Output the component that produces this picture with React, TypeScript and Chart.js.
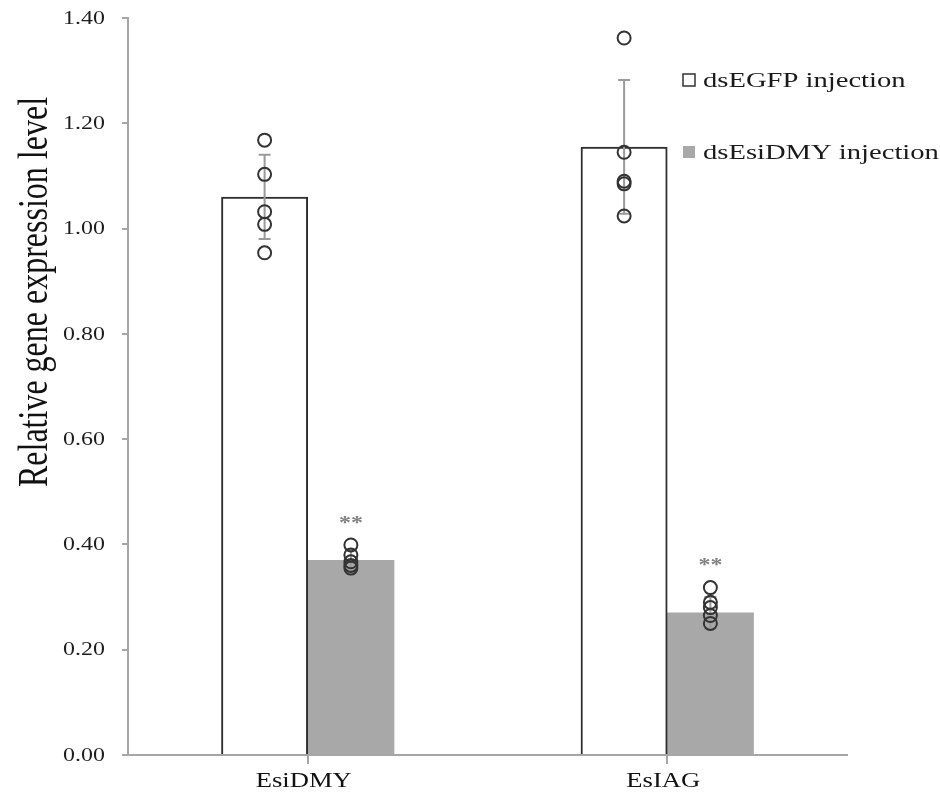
import React, { useEffect, useRef } from "react";
import { Chart, registerables } from "chart.js";

Chart.register(...registerables);

const categories = ["EsiDMY", "EsIAG"];
const seriesNames = ["dsEGFP injection", "dsEsiDMY injection"];
const egfpMeans = [1.06, 1.155];
const egfpErr = [0.08, 0.127];
const dmyMeans = [0.37, 0.27];
const dmyErr = [0.02, 0.03];
const egfpPoints = [
  [1.168, 1.103, 1.032, 1.008, 0.954],
  [1.362, 1.145, 1.09, 1.085, 1.024],
];
const dmyPoints = [
  [0.399, 0.38, 0.367, 0.36, 0.355],
  [0.318, 0.29, 0.28, 0.265, 0.25],
];
const sigLabels = ["**", "**"];
const yTicks = [0, 0.2, 0.4, 0.6, 0.8, 1.0, 1.2, 1.4];
const yTitle = "Relative gene expression level";

const OFFSET = 0.12; // half of a bar's width, in category units
const SERIF = "'Liberation Serif', 'DejaVu Serif', serif";
const GRAY = "#a8a8a8";
const AXIS = "#a6a6a6";
const SX = 1.33; // horizontal glyph stretch of the original figure

function toPts(groups: number[][], shift: number) {
  const out: { x: number; y: number }[] = [];
  groups.forEach((g, i) => g.forEach((v) => out.push({ x: i + shift, y: v })));
  return out;
}
function toBars(means: number[], shift: number) {
  return means.map((v, i) => ({ x: i + shift, y: v }));
}

function stretchedText(
  ctx: CanvasRenderingContext2D,
  text: string,
  x: number,
  y: number,
  align: "left" | "center" | "right",
) {
  ctx.save();
  ctx.translate(x, y);
  ctx.scale(SX, 1);
  ctx.textAlign = align;
  ctx.textBaseline = "middle";
  ctx.fillText(text, 0, 0);
  ctx.restore();
}

const extrasPlugin = {
  id: "extras",
  afterDatasetDraw(chart: any, args: any) {
    if (args.index !== 0) return;
    const ctx = chart.ctx;
    const x = chart.scales.x;
    const y = chart.scales.y;
    ctx.save();
    ctx.strokeStyle = "#9a9a9a";
    ctx.lineWidth = 2;
    const draw = (means: number[], errs: number[], shift: number) => {
      means.forEach((m, i) => {
        const px = x.getPixelForValue(i + shift);
        const top = y.getPixelForValue(m + errs[i]);
        const bot = y.getPixelForValue(m - errs[i]);
        ctx.beginPath();
        ctx.moveTo(px, top);
        ctx.lineTo(px, bot);
        ctx.moveTo(px - 6, top);
        ctx.lineTo(px + 6, top);
        ctx.moveTo(px - 6, bot);
        ctx.lineTo(px + 6, bot);
        ctx.stroke();
      });
    };
    draw(egfpMeans, egfpErr, -OFFSET);
    draw(dmyMeans, dmyErr, OFFSET);
    ctx.restore();
  },
  afterDraw(chart: any) {
    const ctx: CanvasRenderingContext2D = chart.ctx;
    const x = chart.scales.x;
    const y = chart.scales.y;
    ctx.save();
    // y tick labels
    ctx.fillStyle = "#1e1e1e";
    ctx.font = `18px ${SERIF}`;
    yTicks.forEach((v) => {
      stretchedText(ctx, v.toFixed(2), 105, y.getPixelForValue(v) + 1, "right");
    });
    // x category labels
    ctx.font = `20px ${SERIF}`;
    ctx.fillStyle = "#111111";
    categories.forEach((c, i) => {
      stretchedText(ctx, c, x.getPixelForValue(i) - 4, 782, "center");
    });
    // y title (rotated; stretch applies across the glyphs)
    ctx.save();
    ctx.font = `32px ${SERIF}`;
    ctx.fillStyle = "#111111";
    ctx.translate(36, 292);
    ctx.rotate(-Math.PI / 2);
    ctx.scale(1, SX);
    ctx.textAlign = "center";
    ctx.textBaseline = "middle";
    ctx.fillText(yTitle, 0, 0);
    ctx.restore();
    // significance stars
    ctx.fillStyle = "#808080";
    ctx.font = `bold 18px ${SERIF}`;
    sigLabels.forEach((s, i) => {
      const px = x.getPixelForValue(i + OFFSET);
      const py = y.getPixelForValue(Math.max(...dmyPoints[i])) - 24;
      stretchedText(ctx, s, px, py + 3, "center");
    });
    // legend
    const lx = 683;
    const rows = [80, 152];
    ctx.font = `21.5px ${SERIF}`;
    rows.forEach((ry, i) => {
      if (i === 0) {
        ctx.fillStyle = "#ffffff";
        ctx.fillRect(lx, ry - 6, 12, 12);
        ctx.strokeStyle = "#333333";
        ctx.lineWidth = 1.5;
        ctx.strokeRect(lx, ry - 6, 12, 12);
      } else {
        ctx.fillStyle = GRAY;
        ctx.fillRect(lx, ry - 6, 12, 12);
      }
      ctx.fillStyle = "#1a1a1a";
      stretchedText(ctx, seriesNames[i], lx + 20, ry + 1, "left");
    });
    ctx.restore();
  },
};

export default function App() {
  const ref = useRef<HTMLCanvasElement>(null);
  useEffect(() => {
    if (!ref.current) return;
    const pointStyle = {
      pointRadius: 6.5,
      pointBorderWidth: 2,
      pointBorderColor: "#333333",
      pointBackgroundColor: "rgba(0,0,0,0)",
      order: 0,
    };
    const barStyle = {
      grouped: false,
      categoryPercentage: 1,
      barPercentage: 1,
      order: 1,
    };
    const chart = new Chart(ref.current, {
      type: "bar",
      data: {
        datasets: [
          {
            type: "bar",
            label: seriesNames[0],
            data: toBars(egfpMeans, -OFFSET),
            backgroundColor: "#ffffff",
            borderColor: "#2e2e2e",
            borderWidth: 2,
            ...barStyle,
          } as any,
          {
            type: "bar",
            label: seriesNames[1],
            data: toBars(dmyMeans, OFFSET),
            backgroundColor: GRAY,
            borderWidth: 0,
            ...barStyle,
          } as any,
          {
            type: "scatter",
            label: "egfp points",
            data: toPts(egfpPoints, -OFFSET),
            ...pointStyle,
          } as any,
          {
            type: "scatter",
            label: "dmy points",
            data: toPts(dmyPoints, OFFSET),
            ...pointStyle,
          } as any,
        ],
      },
      options: {
        responsive: false,
        animation: false,
        layout: { padding: { top: 18, right: 93, bottom: 0, left: 0 } },
        plugins: {
          legend: { display: false },
          tooltip: { enabled: false },
        },
        scales: {
          x: {
            type: "linear",
            offset: false,
            min: -0.5,
            max: categories.length - 0.5,
            afterBuildTicks: (s: any) => {
              s.ticks = [...categories.map((_, i) => i - 0.5), categories.length - 0.5].map((v) => ({ value: v }));
            },
            grid: {
              display: true,
              drawOnChartArea: false,
              drawTicks: true,
              tickLength: 9,
              color: AXIS,
              lineWidth: 2,
            },
            border: { display: true, color: AXIS, width: 2 },
            ticks: { display: false },
            afterFit: (s: any) => {
              s.height = 50;
            },
          },
          y: {
            type: "linear",
            stacked: false,
            min: 0,
            max: 1.4,
            afterBuildTicks: (s: any) => {
              s.ticks = yTicks.map((v) => ({ value: v }));
            },
            grid: {
              display: true,
              drawOnChartArea: false,
              drawTicks: true,
              tickLength: 6,
              color: AXIS,
              lineWidth: 2,
            },
            border: { display: true, color: AXIS, width: 2 },
            ticks: { display: false },
            afterFit: (s: any) => {
              s.width = 128;
            },
          },
        },
      },
      plugins: [extrasPlugin],
    });
    return () => chart.destroy();
  }, []);
  return (
    <div style={{ position: "fixed", left: 0, top: 0, width: 940, height: 805, background: "#fff" }}>
      <canvas ref={ref} width={940} height={805} />
    </div>
  );
}
